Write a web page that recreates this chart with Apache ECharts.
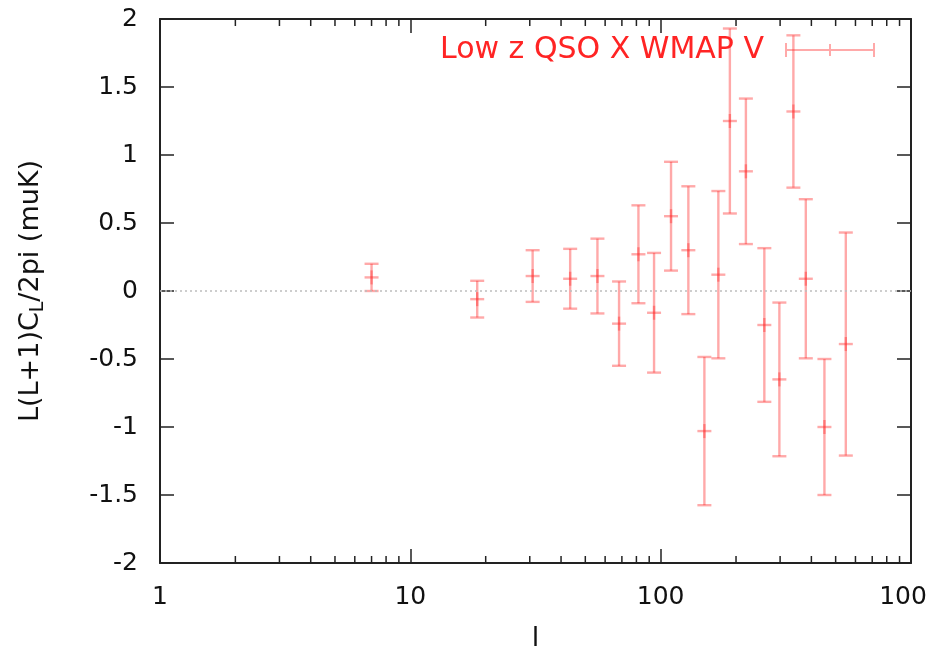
<!DOCTYPE html>
<html>
<head>
<meta charset="utf-8">
<script src="https://cdn.jsdelivr.net/npm/echarts@6/dist/echarts.min.js"></script>
<style>
  html, body { margin: 0; padding: 0; background: #fff; }
  #chart { width: 928px; height: 655px; }
</style>
</head>
<body>
<div id="chart"></div>
<script>
// Multipole bins (l) of the cross-correlation
const multipoleL = [7.0, 18.5, 30.8, 43.5, 55.9, 68.2, 81.5, 94.1, 110, 129,
                    149.5, 170, 189, 219, 259.5, 298, 339, 380, 451, 549];
// L(L+1)C_L/2pi in muK
const crossPower = [0.10, -0.06, 0.11, 0.09, 0.11, -0.24, 0.27, -0.16, 0.55, 0.30,
                    -1.03, 0.12, 1.25, 0.88, -0.25, -0.65, 1.32, 0.09, -1.00, -0.39];
// 1-sigma half-widths of the error bars
const crossError = [0.10, 0.135, 0.19, 0.22, 0.275, 0.31, 0.36, 0.44, 0.40, 0.47,
                    0.545, 0.615, 0.68, 0.535, 0.565, 0.565, 0.56, 0.585, 0.50, 0.82];

const seriesName = 'Low z QSO X WMAP V';

// Axis ticks
const xMajorTicks = [1, 10, 100, 1000];
const xMinorTicks = [2, 3, 4, 5, 6, 7, 8, 9, 20, 30, 40, 50, 60, 70, 80, 90,
                     200, 300, 400, 500, 600, 700, 800, 900];
const yTicks = [-2, -1.5, -1, -0.5, 0, 0.5, 1, 1.5, 2];

const FONT = 'DejaVu Sans';
const FRAME = '#222';
const BAR_COLOR = 'rgba(255, 40, 40, 0.4)';

const yMin = yTicks[0];
const yMax = yTicks[yTicks.length - 1];
const yStep = yTicks[1] - yTicks[0];

const barData = multipoleL.map((l, i) => [l, crossPower[i], crossError[i]]);

function renderErrorBar(params, api) {
  const x = api.value(0);
  const y = api.value(1);
  const e = api.value(2);
  const c = api.coord([x, y]);
  const hi = api.coord([x, y + e]);
  const lo = api.coord([x, y - e]);
  const cap = 7;
  const style = { stroke: BAR_COLOR, lineWidth: 2.4, fill: null };
  const seg = (x1, y1, x2, y2) => ({
    type: 'line', shape: { x1, y1, x2, y2 }, style
  });
  return {
    type: 'group',
    children: [
      seg(hi[0], hi[1], lo[0], lo[1]),
      seg(hi[0] - cap, hi[1], hi[0] + cap, hi[1]),
      seg(lo[0] - cap, lo[1], lo[0] + cap, lo[1]),
      seg(c[0] - cap, c[1], c[0] + cap, c[1]),
      seg(c[0], c[1] - cap, c[0], c[1] + cap)
    ]
  };
}

function renderMinorTick(params, api) {
  const v = api.value(0);
  const b = api.coord([v, yMin]);
  const t = api.coord([v, yMax]);
  const len = 7;
  const style = { stroke: FRAME, lineWidth: 1.5 };
  return {
    type: 'group',
    children: [
      { type: 'line', shape: { x1: b[0], y1: b[1], x2: b[0], y2: b[1] - len }, style },
      { type: 'line', shape: { x1: t[0], y1: t[1], x2: t[0], y2: t[1] + len }, style }
    ]
  };
}

const axisLineStyle = { show: true, onZero: false, lineStyle: { color: FRAME, width: 2 } };
const axisTickStyle = { show: true, inside: true, length: 14, lineStyle: { color: FRAME, width: 1.5 } };
const labelStyle = { fontFamily: FONT, fontSize: 25, color: '#111' };

const chart = echarts.init(document.getElementById('chart'), null, { renderer: 'canvas' });

chart.setOption({
  animation: false,
  backgroundColor: '#fff',
  grid: { left: 160, right: 17, top: 19, bottom: 92, containLabel: false, outerBoundsMode: 'none' },
  legend: {
    right: 48,
    top: 30,
    align: 'right',
    selectedMode: false,
    itemWidth: 90,
    itemHeight: 14,
    textStyle: { fontFamily: FONT, fontSize: 30, color: '#ff2424', padding: [0, 16, 0, 0] },
    data: [{
      name: seriesName,
      icon: 'path://M0,6H90V8H0Z M0,0H2V14H0Z M88,0H90V14H88Z M44,1H46V13H44Z'
    }]
  },
  xAxis: [
    {
      type: 'log', logBase: 10, position: 'bottom',
      min: xMajorTicks[0], max: xMajorTicks[xMajorTicks.length - 1],
      axisLine: axisLineStyle, axisTick: axisTickStyle,
      splitLine: { show: false },
      axisLabel: Object.assign({ margin: 22, formatter: v => String(Math.round(v)) }, labelStyle),
      name: 'l', nameLocation: 'middle', nameGap: 62,
      nameTextStyle: { fontFamily: FONT, fontSize: 27, color: '#111' }
    },
    {
      type: 'log', logBase: 10, position: 'top',
      min: xMajorTicks[0], max: xMajorTicks[xMajorTicks.length - 1],
      axisLine: axisLineStyle, axisTick: axisTickStyle,
      splitLine: { show: false }, axisLabel: { show: false }
    }
  ],
  yAxis: [
    {
      type: 'value', position: 'left', min: yMin, max: yMax, interval: yStep,
      axisLine: axisLineStyle, axisTick: axisTickStyle,
      splitLine: { show: false },
      axisLabel: Object.assign({ margin: 22 }, labelStyle),
      name: '{a|L(L+1)C}{s|L}{a|/2pi (muK)}',
      nameLocation: 'middle', nameGap: 112,
      nameTextStyle: {
        fontFamily: FONT, fontSize: 27, color: '#111',
        rich: {
          a: { fontFamily: FONT, fontSize: 27, color: '#111', lineHeight: 34, verticalAlign: 'middle' },
          s: { fontFamily: FONT, fontSize: 19, color: '#111', lineHeight: 34, verticalAlign: 'bottom' }
        }
      }
    },
    {
      type: 'value', position: 'right', min: yMin, max: yMax, interval: yStep,
      axisLine: axisLineStyle, axisTick: axisTickStyle,
      splitLine: { show: false }, axisLabel: { show: false }
    }
  ],
  series: [
    {
      name: 'minor ticks',
      type: 'custom',
      xAxisIndex: 0, yAxisIndex: 0,
      silent: true,
      renderItem: renderMinorTick,
      encode: { x: 0, y: 1 },
      data: xMinorTicks.map(v => [v, 0]),
      z: 3
    },
    {
      name: seriesName,
      type: 'custom',
      xAxisIndex: 0, yAxisIndex: 0,
      renderItem: renderErrorBar,
      itemStyle: { color: BAR_COLOR },
      encode: { x: 0, y: 1 },
      data: barData,
      markLine: {
        silent: true,
        symbol: 'none',
        label: { show: false },
        lineStyle: { color: '#bdbdbd', type: [2, 3], width: 1.5 },
        data: [{ yAxis: 0 }]
      },
      z: 4
    }
  ]
});
</script>
</body>
</html>
